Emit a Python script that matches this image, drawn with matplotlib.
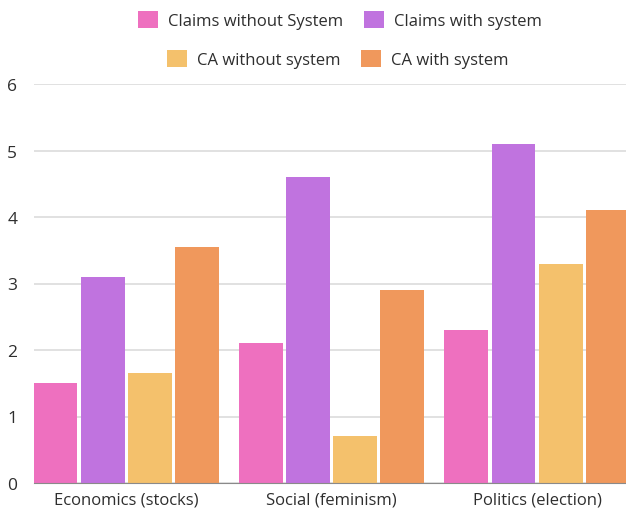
import matplotlib
matplotlib.use("Agg")
import matplotlib.pyplot as plt
import numpy as np
from matplotlib.patches import Patch

plt.rcParams['font.family'] = ['Open Sans', 'DejaVu Sans']

categories = ["Economics (stocks)", "Social (feminism)", "Politics (election)"]
series_names = ["Claims without System", "Claims with system",
                "CA without system", "CA with system"]
claims_without = [1.5, 2.1, 2.3]
claims_with = [3.1, 4.6, 5.1]
ca_without = [1.65, 0.7, 3.3]
ca_with = [3.55, 2.9, 4.1]
colors = ["#ee70bf", "#c073df", "#f4c16c", "#f0985c"]

values = [claims_without, claims_with, ca_without, ca_with]

fig = plt.figure(figsize=(6.26, 5.10), dpi=100)
ax = fig.add_axes([34 / 626, 26 / 510, 592 / 626, 399 / 510])

x = np.arange(len(categories))
step = 0.229
width = 0.214
for i, (vals, col) in enumerate(zip(values, colors)):
    ax.bar(x + (i - 1.5) * step, vals, width, color=col, zorder=3)

ax.set_xlim(-0.448, 2.433)
ax.set_ylim(0, 6)
ax.set_yticks(range(0, 7))
ax.set_xticks(x)
ax.set_xticklabels(categories)
ax.grid(axis='y', color='#dcdcdc', linewidth=1.2, zorder=0)
for s in ['top', 'right', 'left']:
    ax.spines[s].set_visible(False)
ax.spines['bottom'].set_color('#8a8a8a')
ax.spines['bottom'].set_zorder(4)
ax.tick_params(axis='both', length=0, labelsize=12, colors='#2e2e2e')
ax.tick_params(axis='y', labelsize=12.5, pad=12)
ax.tick_params(axis='x', pad=6)

handles = [Patch(facecolor=c) for c in colors]
leg_kw = dict(ncol=2, frameon=False, fontsize=12, handlelength=1.2,
              handleheight=1.2, handletextpad=0.6, columnspacing=1.2,
              labelcolor='#2e2e2e', loc='center')
leg1 = fig.legend(handles[:2], series_names[:2],
                  bbox_to_anchor=(340 / 626, 1 - 21 / 510), **leg_kw)
leg2 = fig.legend(handles[2:], series_names[2:],
                  bbox_to_anchor=(338 / 626, 1 - 60 / 510), **leg_kw)

fig.savefig("out.png", dpi=100)
